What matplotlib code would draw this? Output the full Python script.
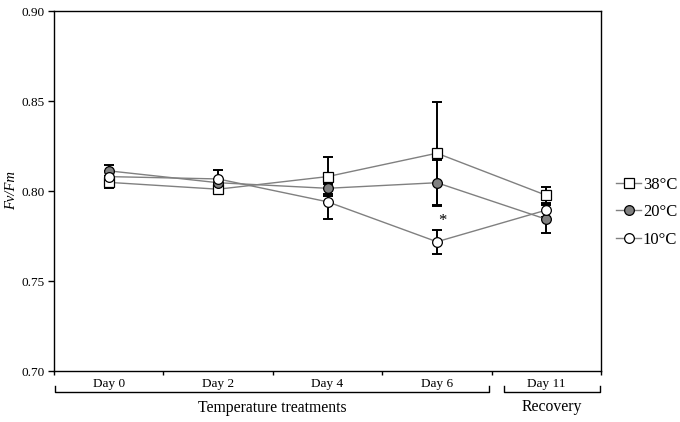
import matplotlib
matplotlib.use("Agg")
import matplotlib.pyplot as plt
import matplotlib.transforms as mtransforms

# dias de medicao
days = ["Day 0", "Day 2", "Day 4", "Day 6", "Day 11"]
# valores medios de Fv/Fm por temperatura
fv_38 = [0.8048, 0.8010, 0.8080, 0.8210, 0.7976]
fv_20 = [0.8112, 0.8046, 0.8015, 0.8046, 0.7843]
fv_10 = [0.8080, 0.8067, 0.7940, 0.7718, 0.7894]
# barras de erro
err_38 = [0.0033, 0.0015, 0.0109, 0.0286, 0.0048]
err_20 = [0.0032, 0.0020, 0.0030, 0.0129, 0.0078]
err_10 = [0.0030, 0.0050, 0.0097, 0.0066, 0.0040]

plt.rcParams['font.family'] = ['Liberation Serif', 'DejaVu Serif']

fig = plt.figure(figsize=(6.8, 4.22), dpi=100)
ax = fig.add_axes([54/680, 51/422, 547/680, 360/422])

x = list(range(len(days)))
series = [
    (fv_38, err_38, 's', 'white', '38°C'),
    (fv_20, err_20, 'o', '#808080', '20°C'),
    (fv_10, err_10, 'o', 'white', '10°C'),
]
for vals, errs, mk, fc, lab in series:
    ax.errorbar(x, vals, yerr=errs, fmt='none', ecolor='black', elinewidth=1.4,
                capsize=3.5, capthick=1.4, zorder=2)
for vals, errs, mk, fc, lab in series:
    ax.plot(x, vals, color='#808080', lw=1.0, marker=mk, markersize=7 if mk == 'o' else 6.5,
            markerfacecolor=fc, markeredgecolor='black', markeredgewidth=0.9,
            label=lab, zorder=3)

ax.text(3.05, 0.7832, '*', ha='center', va='center', fontsize=12)

ax.set_xlim(-0.5, 4.5)
ax.set_ylim(0.70, 0.90)
ax.set_yticks([0.70, 0.75, 0.80, 0.85, 0.90])
ax.set_yticklabels(['0.70', '0.75', '0.80', '0.85', '0.90'], fontsize=9.5)
ax.tick_params(axis='y', direction='out', length=4, width=1, pad=3)

ax.set_xticks(x)
ax.set_xticklabels(days, fontsize=9.5)
ax.tick_params(axis='x', which='major', length=0, pad=5)
ax.set_xticks([i - 0.5 for i in range(len(days) + 1)], minor=True)
ax.tick_params(axis='x', which='minor', direction='out', length=3, width=1)

for s in ax.spines.values():
    s.set_linewidth(1.0)

ax.set_ylabel('Fv/Fm', fontsize=10.5, style='italic', labelpad=2)

# colchetes abaixo do eixo
tr = mtransforms.blended_transform_factory(ax.transData, ax.transAxes)
yb, yt = -0.059, -0.042
for x0, x1 in [(-0.49, 3.48), (3.61, 4.49)]:
    ax.plot([x0, x0, x1, x1], [yt, yb, yb, yt], color='black', lw=1.0,
            transform=tr, clip_on=False)
ax.text(1.5, -0.104, 'Temperature treatments', transform=tr, ha='center', va='center',
        fontsize=11.3)
ax.text(4.05, -0.099, 'Recovery', transform=tr, ha='center', va='center', fontsize=11.3)

leg = ax.legend(loc='center left', bbox_to_anchor=(1.016, 0.441), frameon=False,
                borderaxespad=0, fontsize=12, handlelength=1.5, handletextpad=0.08,
                labelspacing=0.68)

plt.savefig("out.png")
plt.close()
print("out.png")
